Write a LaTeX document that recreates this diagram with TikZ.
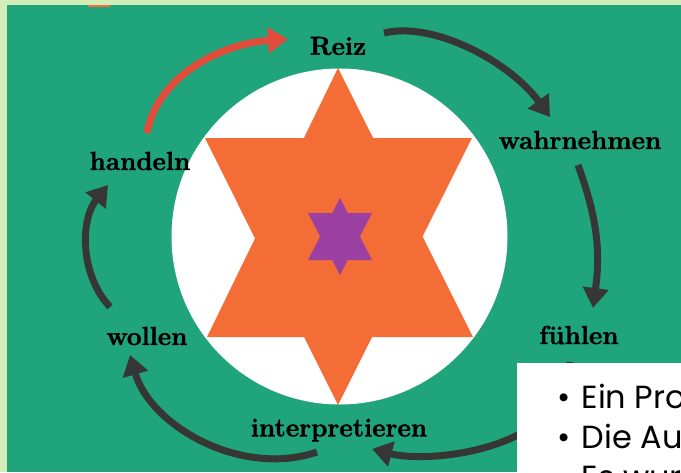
\documentclass[tikz,border=0pt]{standalone}
\usepackage{fontspec}
\newfontfamily\boxfont{Poppins}
\newfontfamily\labfont{Latin Modern Roman}[BoldFeatures={FakeBold=1.6}]
\usepackage{xcolor}
\usetikzlibrary{arrows.meta,calc}

\definecolor{pale}{HTML}{D3EDB9}
\definecolor{panel}{HTML}{20A47B}
\definecolor{starorange}{HTML}{F46C36}
\definecolor{starpurple}{HTML}{9B40A0}
\definecolor{cycdark}{HTML}{363636}
\definecolor{cycred}{HTML}{E34B3B}

\begin{document}
\begin{tikzpicture}[x=1pt,y=-1pt,
  lab/.style={font=\labfont\fontsize{26}{30}\selectfont\bfseries,text=black,inner sep=0pt},
  arr/.style={-{Triangle[length=20pt,width=25pt]},line width=7pt,cycdark},
  note/.style={font=\boxfont\fontsize{32}{40}\selectfont,anchor=base west,inner sep=0pt,text=black}]
\clip (0,0) rectangle (681,472);
\fill[pale] (0,0) rectangle (681,472);
\fill[panel] (7,5) rectangle (681,472);
\fill[starorange] (88,4.5) rectangle (110,7);
% star in circle
\fill[white] (339.5,236.5) circle[radius=168pt];
\fill[starorange] (338,68) -- (473,337) -- (207,337) -- cycle;
\fill[starorange] (338,405) -- (472,138) -- (205,138) -- cycle;
\fill[starpurple] (340,198) -- (372,260) -- (308,260) -- cycle;
\fill[starpurple] (340,275) -- (372,213) -- (308,213) -- cycle;
% cycle labels
\node[lab] (reiz) at (338,46) {Reiz};
\node[lab] (wahr) at (580,140) {wahrnehmen};
\node[lab] (fuehl) at (579,335) {fühlen};
\node[lab] (interp) at (339,430) {interpretieren};
\node[lab] (wollen) at (147,336) {wollen};
\node[lab] (handeln) at (140,161) {handeln};
\draw[arr] ($(reiz)+(46,-13)$) .. controls +(50,-12) and +(-40,-55) .. ($(wahr)+(-30,-23)$);
\draw[arr] ($(wahr)+(-2,25)$) .. controls +(18,50) and +(8,-60) .. ($(fuehl)+(14,-27)$);
\draw[arr] ($(fuehl)+(-9,27)$) .. controls +(-2,88) and +(58,15) .. ($(interp)+(33,19)$);
\draw[arr] ($(interp)+(-22,22)$) .. controls +(-77,26) and +(20,70) .. ($(wollen)+(-17,19)$);
\draw[arr] ($(wollen)+(-37,-29)$) .. controls +(-30,-32) and +(-28,35) .. ($(handeln)+(-32,24)$);
\draw[arr,cycred] ($(handeln)+(7,-28)$) .. controls +(10,-55) and +(-70,5) .. ($(reiz)+(-50,-7)$);
% text panel
\fill[white] (517,363) rectangle (681,472);
\node[note] (l1) at (557,408) {\textbullet\hspace{0.35em}Ein Pro};
\node[note] (l2) at (557,448) {\textbullet\hspace{0.35em}Die Aus};
\node[note] (l3) at (557,488) {\textbullet\hspace{0.35em}Es wurde};
\end{tikzpicture}
\end{document}
